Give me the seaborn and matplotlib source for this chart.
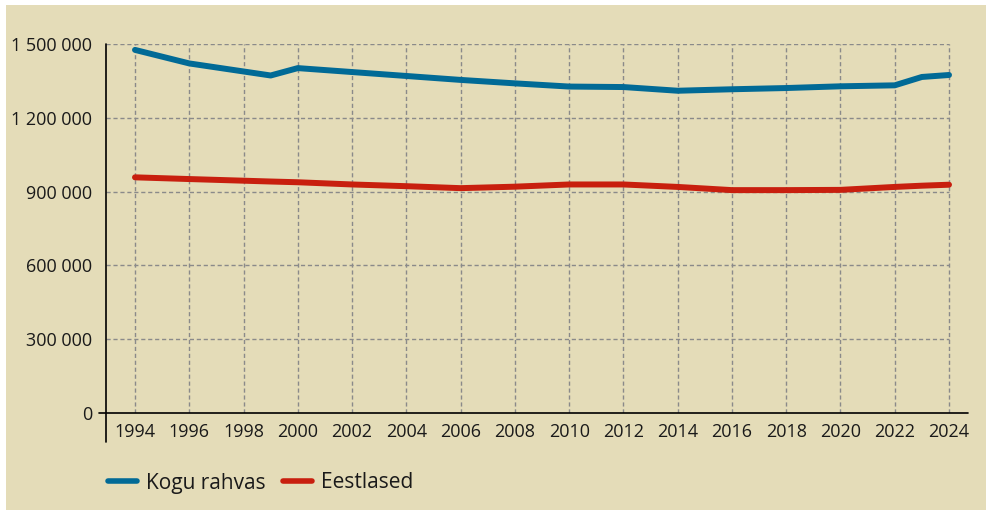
import matplotlib
matplotlib.use("Agg")
import matplotlib.pyplot as plt
from matplotlib.patches import Rectangle
from matplotlib.ticker import FuncFormatter
import pandas as pd
import seaborn as sns

# data
years = [1994, 1996, 1999, 2000, 2002, 2004, 2006, 2008, 2010, 2012,
         2014, 2016, 2018, 2020, 2022, 2023, 2024]
kogu_rahvas = [1476000, 1421000, 1372000, 1402000, 1386000, 1370000, 1354000,
               1340000, 1327000, 1325000, 1310000, 1316000, 1321000, 1328000,
               1332000, 1366000, 1374000]
eestlased = [958000, 951000, 941000, 938000, 929000, 922000, 914000, 920000,
             929000, 929000, 919000, 906000, 906000, 907000, 919000, 924000,
             928000]
series_names = ["Kogu rahvas", "Eestlased"]
x_ticks = list(range(1994, 2025, 2))
y_ticks = [0, 300000, 600000, 900000, 1200000, 1500000]

df = pd.DataFrame({
    "aasta": years * 2,
    "rahvaarv": kogu_rahvas + eestlased,
    "rühm": [series_names[0]] * len(years) + [series_names[1]] * len(years),
})

bg = "#E4DCB8"
palette = {"Kogu rahvas": "#016A96", "Eestlased": "#C81F0E"}

sns.set_style("white")
plt.rcParams["font.family"] = ["Open Sans", "DejaVu Sans"]
plt.rcParams["text.color"] = "#1a1a1a"

fig = plt.figure(figsize=(9.86, 5.16), dpi=100, facecolor="white")
fig.patches.append(Rectangle((6 / 986, 6 / 516), 1, (516 - 11) / 516,
                             transform=fig.transFigure, facecolor=bg,
                             edgecolor="none", zorder=-10))
ax = fig.add_axes([106 / 986, 1 - 413 / 516, (968 - 106) / 986, (413 - 44) / 516])
ax.set_facecolor("none")

xmin = 1994 - 29 / 27.13
ax.set_xlim(xmin, 2024.7)
ax.set_ylim(0, 1500000)

# grid drawn only over the data span
grid_kw = dict(color="#8a8a8a", linewidth=1, linestyles=(0, (3, 2)), zorder=0)
ax.hlines(y_ticks[1:], xmin, 2024, **grid_kw)
ax.vlines(x_ticks, 0, 1500000, **grid_kw)

sns.lineplot(data=df, x="aasta", y="rahvaarv", hue="rühm", palette=palette,
             linewidth=4.3, legend=False, ax=ax, zorder=3)
for ln in ax.get_lines():
    ln.set_solid_capstyle("round")
    ln.set_solid_joinstyle("round")

for s in ["top", "right", "bottom", "left"]:
    ax.spines[s].set_visible(False)
ax.axhline(0, xmin=-0.008, xmax=1, color="black", linewidth=1.2, clip_on=False, zorder=4)
ax.plot([0, 0], [-29 / 369, 1], transform=ax.transAxes, color="black",
        linewidth=1.2, clip_on=False, zorder=4)

ax.set_xticks(x_ticks)
ax.set_yticks(y_ticks)
ax.yaxis.set_major_formatter(FuncFormatter(lambda v, p: f"{int(v):,}".replace(",", " ")))
ax.tick_params(axis="x", length=0, pad=7, labelsize=13, colors="#1a1a1a")
ax.tick_params(axis="y", length=0, pad=10, labelsize=13, colors="#1a1a1a")
ax.set_xlabel("")
ax.set_ylabel("")

handles = ax.get_lines()[:2]
leg = fig.legend(handles, series_names, loc="center left",
                 bbox_to_anchor=(89 / 986, 1 - 483 / 516), ncol=2, frameon=False,
                 fontsize=15, handlelength=1.4, handletextpad=0.45,
                 columnspacing=0.8)
for lh in leg.get_lines():
    lh.set_linewidth(4)

fig.savefig("out.png", dpi=100, facecolor="white")
